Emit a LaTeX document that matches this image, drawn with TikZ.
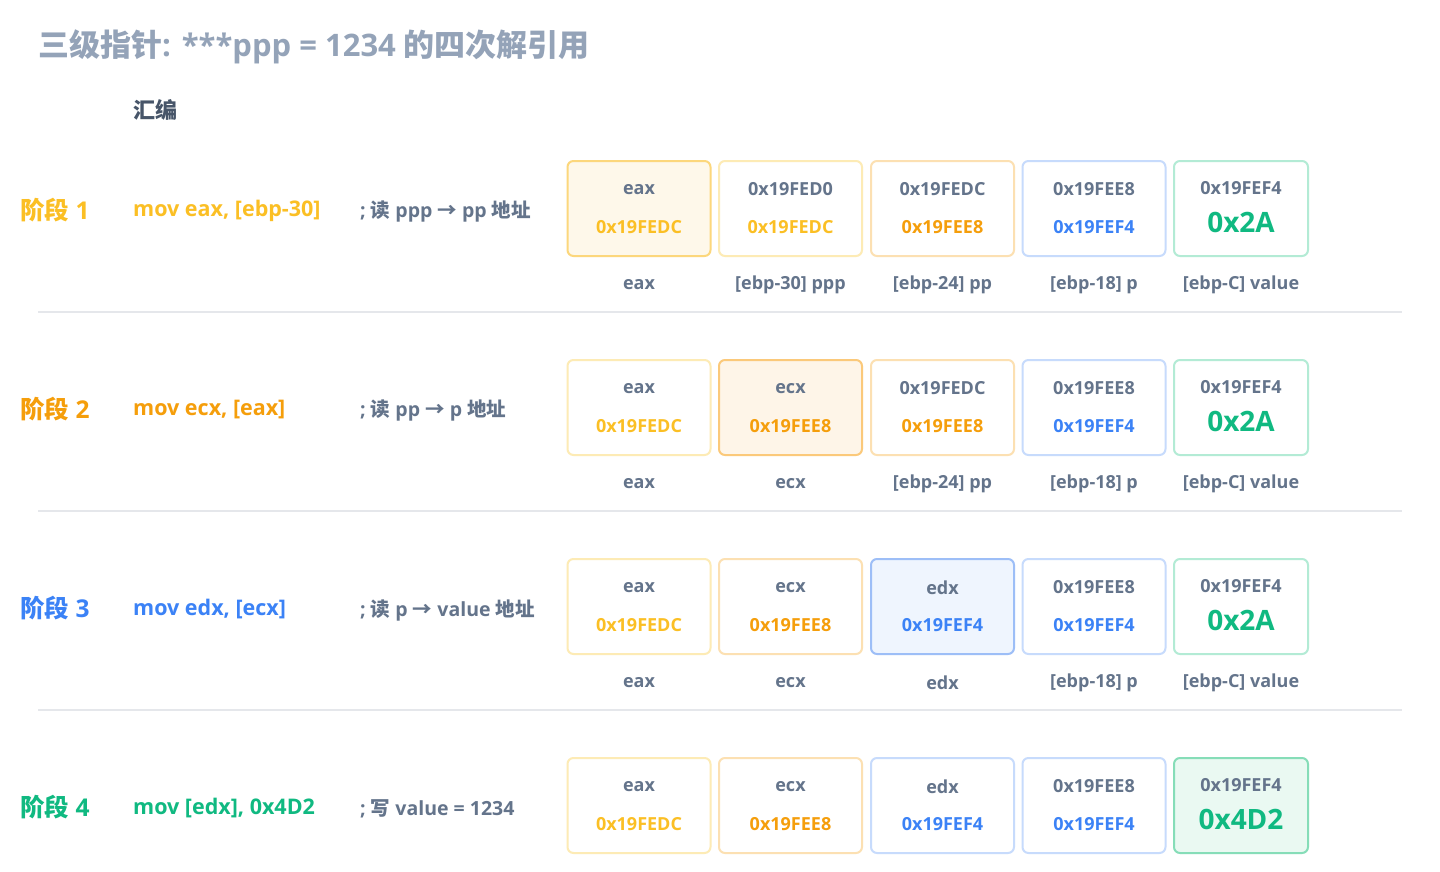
\documentclass[tikz,border=0pt]{standalone}
\usepackage{fontspec}
\setmainfont{Open Sans}
\newfontfamily\cjk{Noto Sans CJK SC}
\definecolor{cTitle}{HTML}{94A3B8}
\definecolor{cTxt}{HTML}{64748B}
\definecolor{cHead}{HTML}{475569}
\definecolor{cY}{HTML}{FBBF24}
\definecolor{cO}{HTML}{F59E0B}
\definecolor{cB}{HTML}{3B82F6}
\definecolor{cG}{HTML}{10B981}
\definecolor{cYL}{HTML}{FDEBB5}
\definecolor{cYH}{HTML}{FCD77C}
\definecolor{cYF}{HTML}{FEF8EA}
\definecolor{cOL}{HTML}{FCE0B2}
\definecolor{cOH}{HTML}{FBC97A}
\definecolor{cOF}{HTML}{FEF5E8}
\definecolor{cBL}{HTML}{C7DBFC}
\definecolor{cBH}{HTML}{9DBEF7}
\definecolor{cBF}{HTML}{EFF5FE}
\definecolor{cGL}{HTML}{B3EBD5}
\definecolor{cGH}{HTML}{86DDB8}
\definecolor{cGF}{HTML}{EAF9F2}
\definecolor{cSep}{HTML}{E5E7EB}
\tikzset{
  box/.style={draw, rounded corners=6pt, line width=2pt, minimum width=143pt, minimum height=95pt, inner sep=0pt, fill=white},
  nar/.style={minimum width=134pt},
  yl/.style={box, draw=cYL}, yh/.style={box, draw=cYH, fill=cYF},
  ol/.style={box, draw=cOL}, oh/.style={box, draw=cOH, fill=cOF},
  bl/.style={box, draw=cBL}, bh/.style={box, draw=cBH, fill=cBF},
  gl/.style={box, draw=cGL, nar}, gh/.style={box, draw=cGH, fill=cGF, nar},
  toplbl/.style={inner sep=0pt, text=cTxt, font=\bfseries\fontsize{18}{22}\selectfont},
  val/.style={inner sep=0pt, font=\bfseries\fontsize{18}{22}\selectfont},
  big/.style={inner sep=0pt, text=cG, font=\bfseries\fontsize{28}{32}\selectfont},
  blbl/.style={inner sep=0pt, text=cTxt, font=\bfseries\fontsize{18}{22}\selectfont},
  stage/.style={anchor=west, inner sep=0pt, font=\bfseries\fontsize{24.5}{28}\selectfont},
  asm/.style={anchor=west, inner sep=0pt, font=\bfseries\fontsize{21.5}{26}\selectfont},
  cmt/.style={anchor=west, inner sep=0pt, text=cTxt, font=\bfseries\fontsize{19.5}{24}\selectfont},
  sep/.style={draw=cSep, line width=1.5pt}
}
\newcommand\cell[7]{%
  \node[#4] (#1) at (#2,#3) {};
  \node[toplbl] (#1t) at ([yshift=19pt]#1.center) {#5};
  \node[#7] (#1v) at ([yshift=-18.5pt]#1.center) {#6};
}
\newcommand\bigcell[6]{%
  \node[#4] (#1) at (#2,#3) {};
  \node[toplbl] (#1t) at ([yshift=20pt]#1.center) {#5};
  \node[big] (#1v) at ([yshift=-14pt]#1.center) {#6};
}
\newcommand\blab[2]{\node[blbl] (#1b) at ([yshift=-28pt]#1.south) {#2};}
\begin{document}
\begin{tikzpicture}[x=1pt,y=-1pt]
\useasboundingbox (0,0) rectangle (1440,872);
\fill[white] (0,0) rectangle (1440,872);
\node[anchor=west, inner sep=0pt, text=cTitle, font=\bfseries\fontsize{31}{36}\selectfont] (title) at (38,47) {{\cjk 三级指针}: ***ppp = 1234 {\cjk 的四次解引用}};
\node[anchor=west, inner sep=0pt, text=cHead, font=\cjk\bfseries\fontsize{22}{26}\selectfont] (hdr) at (133,110) {汇编};
% row 1
\node[stage, text=cY] (s1) at (20,210) {{\cjk 阶段} 1};
\node[asm, text=cY] (a1) at (133,211) {mov eax, [ebp-30]};
\node[cmt] (c1) at (360,212) {; {\cjk 读} ppp {\cjk →} pp {\cjk 地址}};
\cell{r1a}{639}{208.5}{yh}{eax}{0x19FEDC}{val, text=cY}
\cell{r1b}{790.5}{208.5}{yl}{0x19FED0}{0x19FEDC}{val, text=cY}
\cell{r1c}{942.5}{208.5}{ol}{0x19FEDC}{0x19FEE8}{val, text=cO}
\cell{r1d}{1094}{208.5}{bl}{0x19FEE8}{0x19FEF4}{val, text=cB}
\bigcell{r1e}{1241}{208.5}{gl}{0x19FEF4}{0x2A}
\blab{r1a}{eax}\blab{r1b}{[ebp-30] ppp}\blab{r1c}{[ebp-24] pp}\blab{r1d}{[ebp-18] p}\blab{r1e}{[ebp-C] value}
\coordinate (l1a) at (38,312); \coordinate (l1b) at (1402,312);
\draw[sep] (l1a) -- (l1b);
% row 2
\node[stage, text=cO] (s2) at (20,409) {{\cjk 阶段} 2};
\node[asm, text=cO] (a2) at (133,410) {mov ecx, [eax]};
\node[cmt] (c2) at (360,411) {; {\cjk 读} pp {\cjk →} p {\cjk 地址}};
\cell{r2a}{639}{407.5}{yl}{eax}{0x19FEDC}{val, text=cY}
\cell{r2b}{790.5}{407.5}{oh}{ecx}{0x19FEE8}{val, text=cO}
\cell{r2c}{942.5}{407.5}{ol}{0x19FEDC}{0x19FEE8}{val, text=cO}
\cell{r2d}{1094}{407.5}{bl}{0x19FEE8}{0x19FEF4}{val, text=cB}
\bigcell{r2e}{1241}{407.5}{gl}{0x19FEF4}{0x2A}
\blab{r2a}{eax}\blab{r2b}{ecx}\blab{r2c}{[ebp-24] pp}\blab{r2d}{[ebp-18] p}\blab{r2e}{[ebp-C] value}
\coordinate (l2a) at (38,511); \coordinate (l2b) at (1402,511);
\draw[sep] (l2a) -- (l2b);
% row 3
\node[stage, text=cB] (s3) at (20,608) {{\cjk 阶段} 3};
\node[asm, text=cB] (a3) at (133,609) {mov edx, [ecx]};
\node[cmt] (c3) at (360,610) {; {\cjk 读} p {\cjk →} value {\cjk 地址}};
\cell{r3a}{639}{606.5}{yl}{eax}{0x19FEDC}{val, text=cY}
\cell{r3b}{790.5}{606.5}{ol}{ecx}{0x19FEE8}{val, text=cO}
\cell{r3c}{942.5}{606.5}{bh}{edx}{0x19FEF4}{val, text=cB}
\cell{r3d}{1094}{606.5}{bl}{0x19FEE8}{0x19FEF4}{val, text=cB}
\bigcell{r3e}{1241}{606.5}{gl}{0x19FEF4}{0x2A}
\blab{r3a}{eax}\blab{r3b}{ecx}\blab{r3c}{edx}\blab{r3d}{[ebp-18] p}\blab{r3e}{[ebp-C] value}
\coordinate (l3a) at (38,710); \coordinate (l3b) at (1402,710);
\draw[sep] (l3a) -- (l3b);
% row 4
\node[stage, text=cG] (s4) at (20,807) {{\cjk 阶段} 4};
\node[asm, text=cG] (a4) at (133,808) {mov [edx], 0x4D2};
\node[cmt] (c4) at (360,809) {; {\cjk 写} value = 1234};
\cell{r4a}{639}{805.5}{yl}{eax}{0x19FEDC}{val, text=cY}
\cell{r4b}{790.5}{805.5}{ol}{ecx}{0x19FEE8}{val, text=cO}
\cell{r4c}{942.5}{805.5}{bl}{edx}{0x19FEF4}{val, text=cB}
\cell{r4d}{1094}{805.5}{bl}{0x19FEE8}{0x19FEF4}{val, text=cB}
\bigcell{r4e}{1241}{805.5}{gh}{0x19FEF4}{0x4D2}
\end{tikzpicture}
\end{document}
